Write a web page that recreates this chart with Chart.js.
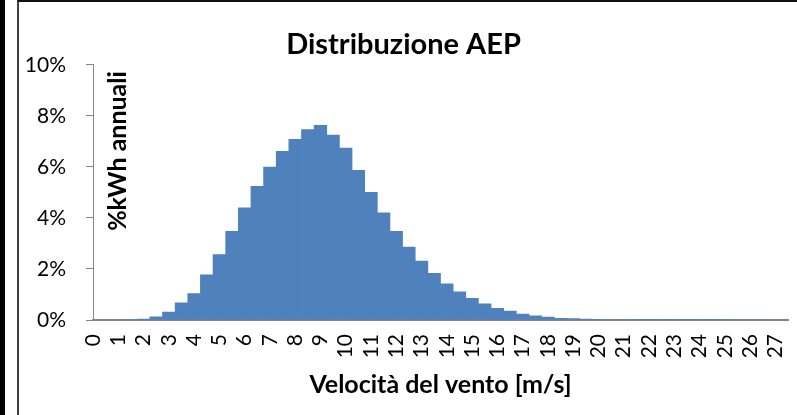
<!DOCTYPE html>
<html lang="it">
<head>
    <meta charset="UTF-8">
    <title>Distribuzione AEP</title>
    <style>
        body {
            margin: 0;
            background: #fff;
            font-family: Lato, sans-serif;
        }
        .strip {
            position: absolute;
            left: 0;
            top: 0;
            width: 5px;
            height: 415px;
            background: #000;
        }
        .frame {
            position: absolute;
            left: 17px;
            top: 0;
            width: 780px;
            height: 415px;
            box-sizing: border-box;
            border-left: 2px solid #404040;
            border-top: 2px solid #111;
        }
        .chart-box {
            position: relative;
            width: 778px;
            height: 413px;
        }
    </style>
    <script src="https://cdn.jsdelivr.net/npm/chart.js"></script>
</head>
<body>
    <div class="strip"></div>
    <div class="frame">
        <div class="chart-box">
            <canvas id="aepChart"></canvas>
        </div>
    </div>
    <script>
        // velocità del vento (m/s), classi da 0.5
        const speeds = [
            0, 0.5, 1, 1.5, 2, 2.5, 3, 3.5, 4, 4.5,
            5, 5.5, 6, 6.5, 7, 7.5, 8, 8.5, 9, 9.5,
            10, 10.5, 11, 11.5, 12, 12.5, 13, 13.5, 14, 14.5,
            15, 15.5, 16, 16.5, 17, 17.5, 18, 18.5, 19, 19.5,
            20, 20.5, 21, 21.5, 22, 22.5, 23, 23.5, 24, 24.5,
            25, 25.5, 26, 26.5, 27, 27.5
        ];

        // % kWh annuali per classe
        const aepShare = [
            0, 0, 0, 0.02, 0.04, 0.12, 0.31, 0.67, 1.04, 1.77,
            2.56, 3.47, 4.40, 5.24, 5.99, 6.61, 7.08, 7.46, 7.63, 7.25,
            6.74, 5.86, 5.00, 4.20, 3.47, 2.86, 2.31, 1.83, 1.42, 1.10,
            0.85, 0.63, 0.46, 0.35, 0.23, 0.16, 0.11, 0.07, 0.06, 0.04,
            0.03, 0.02, 0.02, 0.01, 0.01, 0.01, 0.01, 0.01, 0.01, 0.01,
            0.01, 0, 0, 0, 0, 0
        ];

        const xTickLabels = ['0', '1', '2', '3', '4', '5', '6', '7', '8', '9', '10', '11', '12', '13',
            '14', '15', '16', '17', '18', '19', '20', '21', '22', '23', '24', '25', '26', '27'];
        const yTicks = [0, 2, 4, 6, 8, 10];

        const axisGrey = '#868686';

        // Excel puts the y title inside the plot area, so draw it by hand
        const yTitlePlugin = {
            id: 'yTitle',
            afterDraw(chart) {
                const ctx = chart.ctx;
                const area = chart.chartArea;
                ctx.save();
                ctx.translate(area.left + 25, 149);
                ctx.rotate(-Math.PI / 2);
                ctx.font = 'bold 25px Lato';
                ctx.fillStyle = '#000';
                ctx.textAlign = 'center';
                ctx.textBaseline = 'middle';
                ctx.fillText('%kWh annuali', 0, 0);
                ctx.restore();
            }
        };

        new Chart(document.getElementById('aepChart'), {
            type: 'bar',
            data: {
                labels: speeds,
                datasets: [{
                    data: aepShare,
                    backgroundColor: '#4F81BD',
                    borderWidth: 0,
                    barPercentage: 1,
                    categoryPercentage: 1,
                    clip: 0
                }]
            },
            options: {
                responsive: true,
                maintainAspectRatio: false,
                animation: false,
                layout: { padding: { left: 0, right: 9, top: 0, bottom: 0 } },
                plugins: {
                    legend: { display: false },
                    tooltip: { enabled: false },
                    title: {
                        display: true,
                        text: 'Distribuzione AEP',
                        color: '#000',
                        font: { family: 'Lato', size: 29, weight: 'bold' },
                        padding: { top: 25, bottom: 3 }
                    }
                },
                scales: {
                    x: {
                        type: 'category',
                        offset: false,
                        grid: { display: false },
                        border: { display: true, color: axisGrey, width: 2 },
                        ticks: {
                            autoSkip: false,
                            maxRotation: 90,
                            minRotation: 90,
                            padding: 6,
                            color: '#000',
                            font: { family: 'Lato', size: 21 },
                            callback: (v, i) => (i % 2 === 0 ? xTickLabels[i / 2] : '')
                        },
                        title: {
                            display: true,
                            text: 'Velocità del vento [m/s]',
                            color: '#000',
                            font: { family: 'Lato', size: 25, weight: 'bold' },
                            padding: { top: 0, bottom: 15 }
                        },
                        afterFit: axis => {
                            axis.height = 95;
                            axis.paddingLeft = 0;
                            axis.paddingRight = 0;
                        }
                    },
                    y: {
                        min: 0,
                        max: 10,
                        grid: { drawOnChartArea: false, drawTicks: true, tickLength: 7, color: axisGrey },
                        border: { display: true, color: axisGrey, width: 1 },
                        afterBuildTicks: axis => { axis.ticks = yTicks.map(v => ({ value: v })); },
                        ticks: {
                            padding: 20,
                            color: '#000',
                            font: { family: 'Lato', size: 21 },
                            callback: v => v + '%'
                        },
                        afterFit: axis => { axis.width = 74; }
                    }
                }
            },
            plugins: [yTitlePlugin]
        });
    </script>
</body>
</html>
